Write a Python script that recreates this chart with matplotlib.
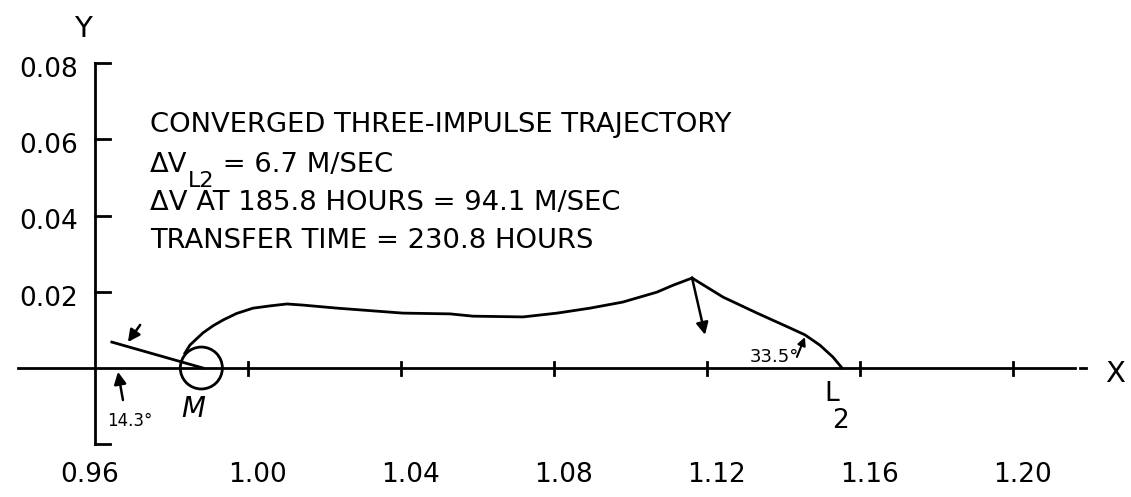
import matplotlib
matplotlib.use("Agg")
import matplotlib.pyplot as plt
from matplotlib.patches import Circle

plt.rcParams['font.family'] = ['DejaVu Sans']

# axis ticks and labels
x_tick_vals = [1.00, 1.04, 1.08, 1.12, 1.16, 1.20]
x_label_vals = [0.96, 1.00, 1.04, 1.08, 1.12, 1.16, 1.20]
x_labels = ['0.96', '1.00', '1.04', '1.08', '1.12', '1.16', '1.20']
y_tick_vals = [0.08, 0.06, 0.04, 0.02, -0.02]
y_label_vals = [0.08, 0.06, 0.04, 0.02]
y_labels = ['0.08', '0.06', '0.04', '0.02']

# trajectory: moon -> cusp at 185.8 h
leg1_x = [0.9835, 0.9848, 0.9882, 0.9909, 0.9935, 0.9970, 1.0013, 1.0058, 1.0102,
          1.0144, 1.0233, 1.0405, 1.0528, 1.0588, 1.0719, 1.0808, 1.0894, 1.0980,
          1.1069, 1.1111, 1.1161]
leg1_y = [0.0039, 0.0060, 0.0092, 0.0111, 0.0126, 0.0143, 0.0157, 0.0163, 0.0168,
          0.0165, 0.0157, 0.0144, 0.0142, 0.0136, 0.0134, 0.0144, 0.0157, 0.0173,
          0.0199, 0.0217, 0.0236]
# cusp -> L2
leg2_x = [1.1161, 1.1242, 1.1331, 1.1417, 1.1456, 1.1495, 1.1529, 1.1553]
leg2_y = [0.0236, 0.0186, 0.0144, 0.0105, 0.0087, 0.0060, 0.0029, 0.0]
# departure direction line at the moon
dep_x = [0.9644, 0.9882]
dep_y = [0.0068, 0.0]

moon_x, moon_y, moon_r = 0.9878, 0.0, 0.0055

text_lines = ["CONVERGED THREE-IMPULSE TRAJECTORY",
              "ΔV AT 185.8 HOURS = 94.1 M/SEC",
              "TRANSFER TIME = 230.8 HOURS"]

fig = plt.figure(figsize=(11.31, 4.97), dpi=100)
ax = fig.add_axes([0, 0, 1, 1])
ax.set_xlim(0.93516, 1.23085)
ax.set_ylim(-0.03384, 0.09654)
ax.axis('off')

lw = 2.0
# axes drawn by hand
ax.plot([0.9399, 1.2162], [0, 0], color='black', lw=lw)
ax.plot([1.2175, 1.2191], [0, 0], color='black', lw=lw)
ax.plot([0.96, 0.96], [-0.02, 0.08], color='black', lw=lw)
for yv in y_tick_vals:
    ax.plot([0.96, 0.964], [yv, yv], color='black', lw=lw)
for xv in x_tick_vals:
    ax.plot([xv, xv], [-0.0018, 0.0016], color='black', lw=lw)

for xv, lab in zip(x_label_vals, x_labels):
    off = 0.0025 if xv > 0.96 else -0.0013
    ax.text(xv + off, -0.0281, lab, ha='center', va='center', fontsize=19)
for yv, lab in zip(y_label_vals, y_labels):
    ax.text(0.9556, yv - 0.0018, lab, ha='right', va='center', fontsize=19)
ax.text(0.9569, 0.0889, "Y", ha='center', va='center', fontsize=21)
ax.text(1.2267, -0.0016, "X", ha='center', va='center', fontsize=21)

# trajectory
ax.plot(leg1_x, leg1_y, color='black', lw=lw)
ax.plot(leg2_x, leg2_y, color='black', lw=lw)
ax.plot(dep_x, dep_y, color='black', lw=lw)
ax.add_patch(Circle((moon_x, moon_y), moon_r, fill=False, color='black', lw=lw))

arrow = dict(arrowstyle='-|>', color='black', lw=1.8, mutation_scale=18,
             shrinkA=0, shrinkB=0)
ax.annotate("", xy=(0.9686, 0.0068), xytext=(0.9718, 0.0113), arrowprops=arrow)
ax.annotate("", xy=(0.9660, -0.0010), xytext=(0.9673, -0.0084), arrowprops=arrow)
ax.annotate("", xy=(1.1195, 0.0087), xytext=(1.1161, 0.0236), arrowprops=arrow)
ax.annotate("", xy=(1.1456, 0.0081), xytext=(1.1435, 0.0029),
            arrowprops=dict(arrowstyle='-|>', color='black', lw=1.5, mutation_scale=12,
                            shrinkA=0, shrinkB=0))

ax.text(0.9631, -0.0139, "14.3°", ha='left', va='center', fontsize=12)
ax.text(1.1375, 0.0029, "33.5°", ha='center', va='center', fontsize=13)
ax.text(0.9856, -0.0108, "M", ha='center', va='center', fontsize=20, style='italic')
ax.text(1.1525, -0.0067, "L", ha='center', va='center', fontsize=19)
ax.text(1.1549, -0.0140, "2", ha='center', va='center', fontsize=19)

# annotation block
fs = 19.7
tx = 0.9744
ax.text(tx, 0.0619, text_lines[0], ha='left', va='baseline', fontsize=fs)
t1 = ax.text(tx, 0.0514, "ΔV", ha='left', va='baseline', fontsize=fs)
t2 = ax.annotate("L2", xy=(1, 0), xycoords=t1, xytext=(0, -9), textcoords='offset points',
                 ha='left', va='bottom', fontsize=16)
ax.annotate(" = 6.7 M/SEC", xy=(1, 0), xycoords=(t2, t1), xytext=(0, 0),
            textcoords='offset points', ha='left', va='bottom', fontsize=fs)
ax.text(tx, 0.0414, text_lines[1], ha='left', va='baseline', fontsize=fs)
ax.text(tx, 0.0315, text_lines[2], ha='left', va='baseline', fontsize=fs)

fig.savefig("out.png", dpi=100, facecolor='white')
